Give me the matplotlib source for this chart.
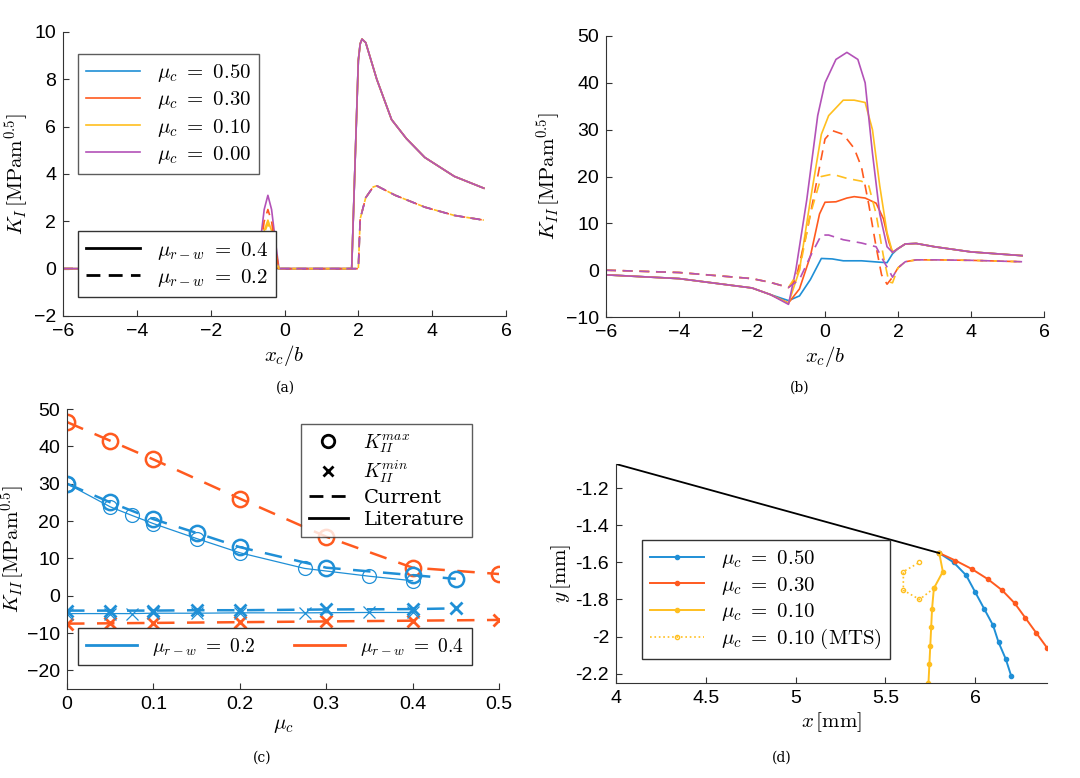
import matplotlib
matplotlib.use("Agg")
import matplotlib.pyplot as plt
from matplotlib.lines import Line2D

plt.rcParams['font.family'] = ['Liberation Sans', 'DejaVu Sans']
plt.rcParams['mathtext.fontset'] = 'cm'

blue, orange, yellow, purple = '#1f8fd6', '#ff5a1f', '#ffbf1f', '#b352b8'
colors = [blue, orange, yellow, purple]
mu_labels = ['0.50', '0.30', '0.10', '0.00']

# ---- (a) K_I vs x_c/b ----
a_x_solid = [-6, -0.75, -0.65, -0.55, -0.45, -0.35, -0.25, -0.15, 1.82, 2.0, 2.05, 2.1, 2.2, 2.5, 2.9, 3.3, 3.8, 4.6, 5.4]
a_y_solid = {
    'blue':   [0, 0, 0, 0, 0, 0, 0, 0, 0, 8.8, 9.5, 9.7, 9.55, 8.0, 6.3, 5.5, 4.7, 3.9, 3.4],
    'orange': [0, 0, 0.05, 0.3, 0.45, 0.3, 0.05, 0, 0, 8.8, 9.5, 9.7, 9.55, 8.0, 6.3, 5.5, 4.7, 3.9, 3.4],
    'yellow': [0, 0, 0.6, 1.6, 2.05, 1.6, 0.6, 0, 0, 8.8, 9.5, 9.7, 9.55, 8.0, 6.3, 5.5, 4.7, 3.9, 3.4],
    'purple': [0, 0, 1.2, 2.5, 3.1, 2.5, 1.2, 0, 0, 8.8, 9.5, 9.7, 9.55, 8.0, 6.3, 5.5, 4.7, 3.9, 3.4],
}
a_x_dash = [-6, -0.75, -0.65, -0.55, -0.45, -0.35, -0.25, -0.15, 2.0, 2.05, 2.2, 2.4, 2.5, 3.0, 3.8, 4.6, 5.4]
a_y_dash = {
    'blue':   [0, 0, 0, 0, 0, 0, 0, 0, 0, 2.1, 3.0, 3.45, 3.5, 3.1, 2.6, 2.25, 2.05],
    'orange': [0, 0, 0.9, 2.0, 2.5, 2.0, 0.9, 0, 0, 2.1, 3.0, 3.45, 3.5, 3.1, 2.6, 2.25, 2.05],
    'yellow': [0, 0, 0.6, 1.5, 1.9, 1.5, 0.6, 0, 0, 2.1, 3.0, 3.45, 3.5, 3.1, 2.6, 2.25, 2.05],
    'purple': [0, 0, 0, 0, 0, 0, 0, 0, 0, 2.1, 3.0, 3.45, 3.5, 3.1, 2.6, 2.25, 2.05],
}

# ---- (b) K_II vs x_c/b ----
b_left_x = [-6, -4, -2, -1.5]
b_left_solid = [-1.0, -1.8, -3.8, -5.2]
b_left_dash = [0.0, -0.5, -1.8, -2.6]
b_tail_x = [2.2, 2.5, 3.0, 4.0, 5.4]
b_tail_solid = [5.6, 5.7, 5.0, 3.9, 3.1]
b_tail_dash = [1.8, 2.2, 2.2, 2.1, 1.8]
b_mid = {
    ('blue', '-'):   ([-1, -0.7, -0.4, -0.1, 0.2, 0.5, 1.0, 1.5, 1.7, 1.85, 2.0],
                      [-6.5, -5.5, -2, 2.5, 2.4, 2.0, 2.0, 1.7, 1.6, 3.5, 4.6]),
    ('orange', '-'): ([-1, -0.7, -0.4, -0.15, 0, 0.3, 0.6, 0.8, 1.1, 1.4, 1.6, 1.75, 1.85, 2.0],
                      [-7, -4, 3, 12, 14.5, 14.6, 15.4, 15.7, 15.4, 14.3, 11, 6, 3.8, 4.6]),
    ('yellow', '-'): ([-1, -0.7, -0.4, -0.1, 0.1, 0.5, 0.8, 1.1, 1.3, 1.5, 1.7, 1.85, 2.0],
                      [-7.1, 0, 15, 29, 33, 36.3, 36.3, 35.8, 30, 18, 8, 3.8, 4.6]),
    ('purple', '-'): ([-1, -0.8, -0.5, -0.2, 0, 0.3, 0.6, 0.9, 1.1, 1.3, 1.5, 1.7, 1.85, 2.0],
                      [-7.3, 0, 15, 33, 40, 45, 46.5, 45, 40, 25, 12, 5, 3.8, 4.6]),
    ('orange', '--'): ([-1, -0.8, -0.5, -0.2, 0, 0.2, 0.5, 0.8, 1.0, 1.2, 1.4, 1.55, 1.7, 1.85, 2.0],
                       [-3.7, -2, 8, 20, 28, 29.8, 29, 26, 22, 14, 5, -1, -3, -1.5, 0.5]),
    ('yellow', '--'): ([-1, -0.7, -0.4, -0.1, 0.2, 0.6, 1.0, 1.2, 1.4, 1.6, 1.75, 1.85, 2.0],
                       [-3.7, 0, 12, 20, 20.5, 19.6, 19, 18, 12, 3, -2.5, -2.7, 0.5]),
    ('purple', '--'): ([-1, -0.7, -0.4, -0.1, 0.1, 0.5, 1.0, 1.4, 1.6, 1.75, 1.85, 2.0],
                       [-3.7, -2, 3, 7.5, 7.5, 6.5, 5.8, 5, 2, 0, -1.5, 0.5]),
}

# ---- (c) K_II extremes vs mu_c ----
c_mu_cur02 = [0, 0.05, 0.1, 0.15, 0.2, 0.3, 0.4, 0.45]
c_max_cur02 = [30, 25, 20.5, 16.8, 13, 7.5, 5.5, 4.5]
c_min_cur02 = [-4, -4, -4, -3.9, -3.9, -3.7, -3.6, -3.4]
c_mu_lit02 = [0, 0.05, 0.075, 0.1, 0.15, 0.2, 0.275, 0.35, 0.4]
c_max_lit02 = [30, 23.8, 21.5, 19.3, 15.3, 11.5, 7.3, 5.2, 4.0]
c_min_lit02 = [-4.8, -4.8, -4.8, -4.7, -4.7, -4.6, -4.6, -4.5, -4.5]
c_mu_cur04 = [0, 0.05, 0.1, 0.2, 0.3, 0.4, 0.5]
c_max_cur04 = [46.5, 41.5, 36.5, 26, 15.8, 7.5, 5.8]
c_min_cur04 = [-7.5, -7.4, -7.3, -7.1, -6.9, -6.7, -6.5]

# ---- (d) crack paths ----
d_lit_x = [4.0, 5.8]
d_lit_y = [-1.07, -1.55]
d_blue_x = [5.8, 5.88, 5.95, 6.0, 6.05, 6.1, 6.13, 6.17, 6.2]
d_blue_y = [-1.55, -1.6, -1.67, -1.76, -1.85, -1.94, -2.03, -2.12, -2.21]
d_orange_x = [5.8, 5.89, 5.98, 6.07, 6.15, 6.22, 6.28, 6.34, 6.4]
d_orange_y = [-1.55, -1.59, -1.635, -1.69, -1.75, -1.82, -1.9, -1.98, -2.06]
d_yellow_x = [5.8, 5.82, 5.77, 5.76, 5.755, 5.75, 5.745, 5.74]
d_yellow_y = [-1.55, -1.65, -1.74, -1.85, -1.95, -2.05, -2.15, -2.25]
d_mts_x = [5.77, 5.69, 5.6, 5.6, 5.69]
d_mts_y = [-1.74, -1.8, -1.75, -1.65, -1.6]

fig = plt.figure(figsize=(10.8, 7.78), dpi=100)
W, H = 1080, 778


def add_ax(l, t, r, b):
    return fig.add_axes([l / W, 1 - b / H, (r - l) / W, (b - t) / H])


def style(ax):
    for s in ['top', 'right']:
        ax.spines[s].set_visible(False)
    for s in ['left', 'bottom']:
        ax.spines[s].set_color('#333333')
    ax.tick_params(labelsize=14, direction='in', length=4, color='#333333', pad=5)


cname = ['blue', 'orange', 'yellow', 'purple']
lab_kw = dict(fontsize=15, labelpad=2)

# (a)
ax = add_ax(63, 32, 506, 316)
for c, col in zip(cname, colors):
    ax.plot(a_x_solid, a_y_solid[c], '-', color=col, lw=1.2)
for c, col in zip(cname, colors):
    ax.plot(a_x_dash, a_y_dash[c], '--', color=col, lw=1.2, dashes=(6, 4))
ax.set_xlim(-6, 6)
ax.set_ylim(-2, 10)
ax.set_xticks(range(-6, 7, 2))
style(ax)
ax.set_xlabel(r'$x_c/b$', **lab_kw)
ax.set_ylabel(r'$K_I\,[\mathrm{MPam}^{0.5}]$', **lab_kw)
h1 = [Line2D([], [], color=col, lw=1.2) for col in colors]
leg1 = ax.legend(h1, [r'$\mu_c\ =\ %s$' % m for m in mu_labels], loc='upper left',
                 bbox_to_anchor=(0.01, 0.96), fontsize=15, fancybox=False,
                 edgecolor='#333333', handlelength=2.6, labelspacing=0.25)
ax.add_artist(leg1)
h2 = [Line2D([], [], color='k', lw=2), Line2D([], [], color='k', lw=2, ls='--', dashes=(5, 3))]
ax.legend(h2, [r'$\mu_{r-w}\ =\ 0.4$', r'$\mu_{r-w}\ =\ 0.2$'], loc='lower left',
          bbox_to_anchor=(0.01, 0.03), fontsize=15, fancybox=False,
          edgecolor='#333333', handlelength=2.6, framealpha=1, labelspacing=0.25)
fig.text(285 / W, 1 - 392 / H, '(a)', family='serif', fontsize=10, ha='center')

# (b)
ax = add_ax(606, 36, 1044, 317)
for c, col in zip(cname, colors):
    x, y = b_mid[(c, '-')]
    ax.plot(b_left_x + x + b_tail_x, b_left_solid + y + b_tail_solid, '-', color=col, lw=1.2)
for c, col in zip(cname[1:], colors[1:]):
    x, y = b_mid[(c, '--')]
    ax.plot(b_left_x + x + b_tail_x, b_left_dash + y + b_tail_dash, '--', color=col, lw=1.2, dashes=(6, 4))
ax.set_xlim(-6, 6)
ax.set_ylim(-10, 50)
ax.set_xticks(range(-6, 7, 2))
style(ax)
ax.set_xlabel(r'$x_c/b$', **lab_kw)
ax.set_ylabel(r'$K_{II}\,[\mathrm{MPam}^{0.5}]$', **lab_kw)
fig.text(800 / W, 1 - 392 / H, '(b)', family='serif', fontsize=10, ha='center')

# (c)
ax = add_ax(67, 409, 499, 689)
mk = dict(mfc='none', ms=11, mew=1.8)
ax.plot(c_mu_cur04, c_max_cur04, '--o', color=orange, lw=1.8, dashes=(7, 5), **mk)
ax.plot(c_mu_cur04, c_min_cur04, '--x', color=orange, lw=1.8, dashes=(7, 5), ms=9, mew=2)
ax.plot(c_mu_cur02, c_max_cur02, '--o', color=blue, lw=1.8, dashes=(7, 5), **mk)
ax.plot(c_mu_cur02, c_min_cur02, '--x', color=blue, lw=1.8, dashes=(7, 5), ms=9, mew=2)
ax.plot(c_mu_lit02, c_max_lit02, '-o', color=blue, lw=0.9, mfc='none', ms=10, mew=0.9)
ax.plot(c_mu_lit02, c_min_lit02, '-x', color=blue, lw=0.9, ms=8, mew=0.9)
ax.set_xlim(0, 0.5)
ax.set_ylim(-25, 50)
ax.set_yticks(range(-20, 51, 10))
ax.set_xticks([0, 0.1, 0.2, 0.3, 0.4, 0.5])
ax.set_xticklabels(['0', '0.1', '0.2', '0.3', '0.4', '0.5'])
style(ax)
ax.set_xlabel(r'$\mu_c$', **lab_kw)
ax.set_ylabel(r'$K_{II}\,[\mathrm{MPam}^{0.5}]$', fontsize=15, labelpad=0)
h3 = [Line2D([], [], color='k', ls='none', marker='o', mfc='none', ms=9, mew=2),
      Line2D([], [], color='k', ls='none', marker='x', ms=7, mew=2),
      Line2D([], [], color='k', lw=2, ls='--', dashes=(5, 3)),
      Line2D([], [], color='k', lw=2)]
leg3 = ax.legend(h3, [r'$K_{II}^{max}$', r'$K_{II}^{min}$', 'Current', 'Literature'],
                 loc='upper right', bbox_to_anchor=(0.96, 0.98),
                 prop={'family': 'serif', 'size': 14}, fancybox=False,
                 edgecolor='#333333', handlelength=2.0, labelspacing=0.2)
ax.add_artist(leg3)
h4 = [Line2D([], [], color=blue, lw=2), Line2D([], [], color=orange, lw=2)]
ax.legend(h4, [r'$\mu_{r-w}\ =\ 0.2$', r'$\mu_{r-w}\ =\ 0.4$'], loc='lower right',
          bbox_to_anchor=(0.96, 0.05), ncol=2, fontsize=14, fancybox=False,
          edgecolor='#333333', handlelength=2.6, framealpha=1)
fig.text(262 / W, 1 - 762 / H, '(c)', family='serif', fontsize=10, ha='center')

# (d)
ax = add_ax(616, 464, 1047, 683)
ax.plot(d_blue_x, d_blue_y, '-o', color=blue, lw=1.4, ms=3)
ax.plot(d_orange_x, d_orange_y, '-o', color=orange, lw=1.4, ms=3)
ax.plot(d_yellow_x, d_yellow_y, '-o', color=yellow, lw=1.4, ms=3)
ax.plot(d_mts_x, d_mts_y, ':o', color=yellow, lw=1.2, ms=3, mfc='none')
ax.plot(d_lit_x, d_lit_y, '-', color='k', lw=1.3)
ax.set_xlim(4, 6.4)
ax.set_ylim(-2.25, -1.07)
ax.set_xticks([4, 4.5, 5, 5.5, 6])
ax.set_xticklabels(['4', '4.5', '5', '5.5', '6'])
ax.set_yticks([-2.2, -2, -1.8, -1.6, -1.4, -1.2])
ax.set_yticklabels(['-2.2', '-2', '-1.8', '-1.6', '-1.4', '-1.2'])
style(ax)
ax.set_xlabel(r'$x\,[\mathrm{mm}]$', **lab_kw)
ax.set_ylabel(r'$y\,[\mathrm{mm}]$', **lab_kw)
h5 = [Line2D([], [], color=blue, marker='o', ms=3, lw=1.4),
      Line2D([], [], color=orange, marker='o', ms=3, lw=1.4),
      Line2D([], [], color=yellow, marker='o', ms=3, lw=1.4),
      Line2D([], [], color=yellow, marker='o', ms=3, lw=1.2, ls=':', mfc='none')]
ax.legend(h5, [r'$\mu_c\ =\ 0.50$', r'$\mu_c\ =\ 0.30$', r'$\mu_c\ =\ 0.10$',
               r'$\mu_c\ =\ 0.10\ \mathrm{(MTS)}$'],
          loc='lower left', bbox_to_anchor=(0.035, 0.06), fontsize=15, fancybox=False,
          edgecolor='#333333', handlelength=2.6, labelspacing=0.2, framealpha=1)
fig.text(782 / W, 1 - 762 / H, '(d)', family='serif', fontsize=10, ha='center')

fig.savefig('out.png', dpi=100)
